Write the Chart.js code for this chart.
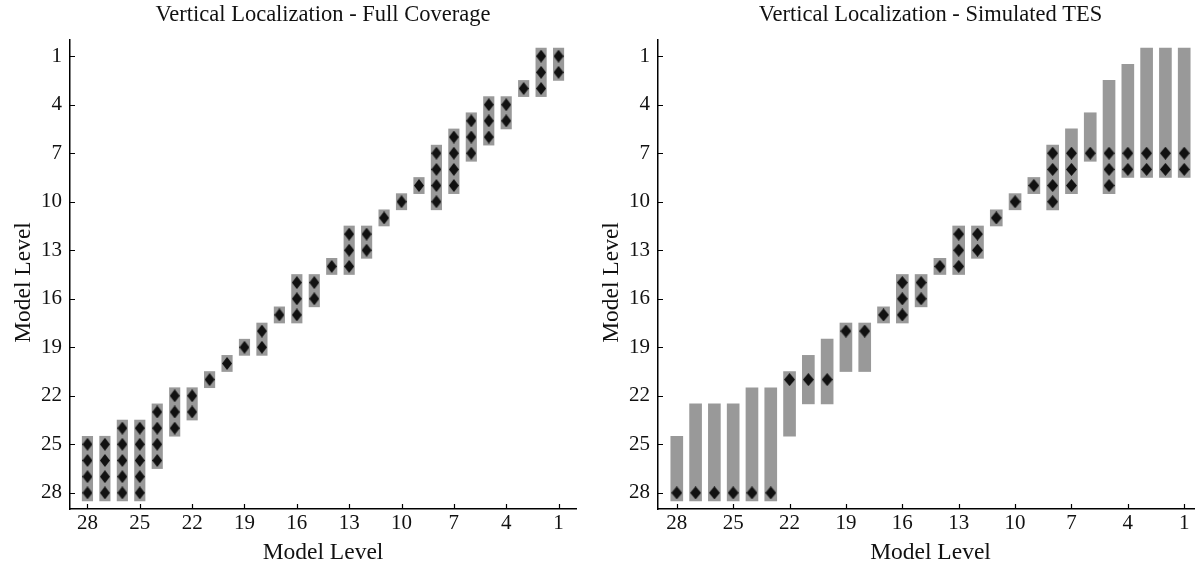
<!DOCTYPE html>
<html>
<head>
<meta charset="utf-8">
<script src="https://cdn.jsdelivr.net/npm/chart.js@4.4.1/dist/chart.umd.min.js"></script>
<style>
  html, body { margin: 0; padding: 0; background: #fff; overflow: hidden; }
  body { width: 1195px; height: 570px; position: relative; }
  .panel { position: absolute; top: 0; height: 570px; }
  #left { left: 0; width: 582px; }
  #right { left: 588px; width: 621px; }
</style>
</head>
<body>
<div class="panel" id="left"><canvas id="fullChart"></canvas></div>
<div class="panel" id="right"><canvas id="tesChart"></canvas></div>
<script>
var levels = [1, 2, 3, 4, 5, 6, 7, 8, 9, 10, 11, 12, 13, 14, 15, 16, 17, 18, 19, 20, 21, 22, 23, 24, 25, 26, 27, 28];
var tickLevels = [1, 4, 7, 10, 13, 16, 19, 22, 25, 28];

// Full Coverage: top / bottom edge of each grey bar and the diamond levels, per model level 1..28
var fullBarTop = [0.5, 0.5, 2.5, 3.5, 3.5, 4.5, 5.5, 6.5, 8.5, 9.5, 10.5, 11.5, 11.5, 13.5, 14.5, 14.5, 16.5, 17.5, 18.5, 19.5, 20.5, 21.5, 21.5, 22.5, 23.5, 23.5, 24.5, 24.5];
var fullBarBottom = [2.5, 3.5, 3.5, 5.5, 6.5, 7.5, 9.5, 10.5, 9.5, 10.5, 11.5, 13.5, 14.5, 14.5, 16.5, 17.5, 17.5, 19.5, 19.5, 20.5, 21.5, 23.5, 24.5, 26.5, 28.5, 28.5, 28.5, 28.5];
var fullDiamonds = [[1, 2], [1, 2, 3], [3], [4, 5], [4, 5, 6], [5, 6, 7], [6, 7, 8, 9], [7, 8, 9, 10], [9], [10], [11], [12, 13], [12, 13, 14], [14], [15, 16], [15, 16, 17], [17], [18, 19], [19], [20], [21], [22, 23], [22, 23, 24], [23, 24, 25, 26], [24, 25, 26, 27, 28], [24, 25, 26, 27, 28], [25, 26, 27, 28], [25, 26, 27, 28]];

// Simulated TES
var tesBarTop = [0.5, 0.5, 0.5, 1.5, 2.5, 4.5, 5.5, 6.5, 8.5, 9.5, 10.5, 11.5, 11.5, 13.5, 14.5, 14.5, 16.5, 17.5, 17.5, 18.5, 19.5, 20.5, 21.5, 21.5, 22.5, 22.5, 22.5, 24.5];
var tesBarBottom = [8.5, 8.5, 8.5, 8.5, 9.5, 7.5, 9.5, 10.5, 9.5, 10.5, 11.5, 13.5, 14.5, 14.5, 16.5, 17.5, 17.5, 20.5, 20.5, 22.5, 22.5, 24.5, 28.5, 28.5, 28.5, 28.5, 28.5, 28.5];
var tesDiamonds = [[7, 8], [7, 8], [7, 8], [7, 8], [7, 8, 9], [7], [7, 8, 9], [7, 8, 9, 10], [9], [10], [11], [12, 13], [12, 13, 14], [14], [15, 16], [15, 16, 17], [17], [18], [18], [21], [21], [21], [28], [28], [28], [28], [28], [28]];

var serif = '"Liberation Serif", "Times New Roman", serif';
Chart.defaults.font.family = serif;
Chart.defaults.color = '#111';

function diamondImage(w, h) {
    var c = document.createElement('canvas');
    c.width = w;
    c.height = h;
    var g = c.getContext('2d');
    g.fillStyle = '#111';
    g.beginPath();
    g.moveTo(w / 2, 0);
    g.lineTo(w, h / 2);
    g.lineTo(w / 2, h);
    g.lineTo(0, h / 2);
    g.closePath();
    g.fill();
    return c;
}

// small tick marks pointing into the plot, plus the y title sitting a bit below centre
var axisExtras = {
    id: 'axisExtras',
    afterDraw: function (chart) {
        var ctx = chart.ctx, xs = chart.scales.x, ys = chart.scales.y, area = chart.chartArea;
        ctx.save();
        ctx.strokeStyle = '#000';
        ctx.lineWidth = 1.2;
        ctx.beginPath();
        tickLevels.forEach(function (v) {
            var px = Math.round(xs.getPixelForValue(v)) + 0.5;
            ctx.moveTo(px, area.bottom);
            ctx.lineTo(px, area.bottom - 5);
            var py = Math.round(ys.getPixelForValue(v)) + 0.5;
            ctx.moveTo(area.left, py);
            ctx.lineTo(area.left + 5, py);
        });
        ctx.stroke();

        ctx.translate(ys.left + 24, (area.top + area.bottom) / 2 + 8);
        ctx.rotate(-Math.PI / 2);
        ctx.fillStyle = '#111';
        ctx.font = '23.5px ' + serif;
        ctx.textAlign = 'center';
        ctx.textBaseline = 'middle';
        ctx.fillText('Model Level', 0, 0);
        ctx.restore();
    }
};

function setTicks(scale) {
    scale.ticks = tickLevels.map(function (v) { return { value: v }; });
}

function drawPanel(id, title, barTop, barBottom, diamonds, barWidth, marker) {
    var bars = levels.map(function (l, i) { return { x: l, y: [barTop[i], barBottom[i]] }; });
    var points = [];
    levels.forEach(function (l, i) {
        diamonds[i].forEach(function (d) { points.push({ x: l, y: d }); });
    });

    return new Chart(document.getElementById(id), {
        type: 'bar',
        data: {
            datasets: [{
                type: 'bar',
                data: bars,
                backgroundColor: '#999999',
                borderWidth: 0,
                barThickness: barWidth,
                order: 2
            }, {
                type: 'scatter',
                data: points,
                pointStyle: marker,
                pointRadius: 5,
                order: 1
            }]
        },
        plugins: [axisExtras],
        options: {
            responsive: true,
            maintainAspectRatio: false,
            animation: false,
            layout: { padding: 0 },
            plugins: {
                legend: { display: false },
                tooltip: { enabled: false },
                title: {
                    display: true,
                    text: title,
                    fullSize: false,
                    color: '#111',
                    font: { size: 22.5, weight: 'normal' },
                    padding: { top: 2, bottom: 11 }
                }
            },
            scales: {
                x: {
                    type: 'linear',
                    reverse: true,
                    min: 0,
                    max: 29,
                    offset: false,
                    afterBuildTicks: setTicks,
                    afterFit: function (s) { s.height = 61; },
                    grid: { display: false, drawTicks: false },
                    border: { display: true, color: '#000', width: 1.5 },
                    ticks: { font: { size: 21 }, padding: 2, maxRotation: 0, autoSkip: false },
                    title: { display: true, text: 'Model Level', font: { size: 23.5 }, padding: { top: 0, bottom: 3 } }
                },
                y: {
                    type: 'linear',
                    reverse: true,
                    min: 0,
                    max: 29,
                    afterBuildTicks: setTicks,
                    afterFit: function (s) { s.width = 70; },
                    grid: { display: false, drawTicks: false },
                    border: { display: true, color: '#000', width: 1.5 },
                    ticks: { font: { size: 21 }, padding: 8, autoSkip: false },
                    title: { display: false }
                }
            }
        }
    });
}

drawPanel('fullChart', 'Vertical Localization - Full Coverage', fullBarTop, fullBarBottom, fullDiamonds, 10.5, diamondImage(10, 13));
drawPanel('tesChart', 'Vertical Localization - Simulated TES', tesBarTop, tesBarBottom, tesDiamonds, 12, diamondImage(11, 13));
</script>
</body>
</html>
